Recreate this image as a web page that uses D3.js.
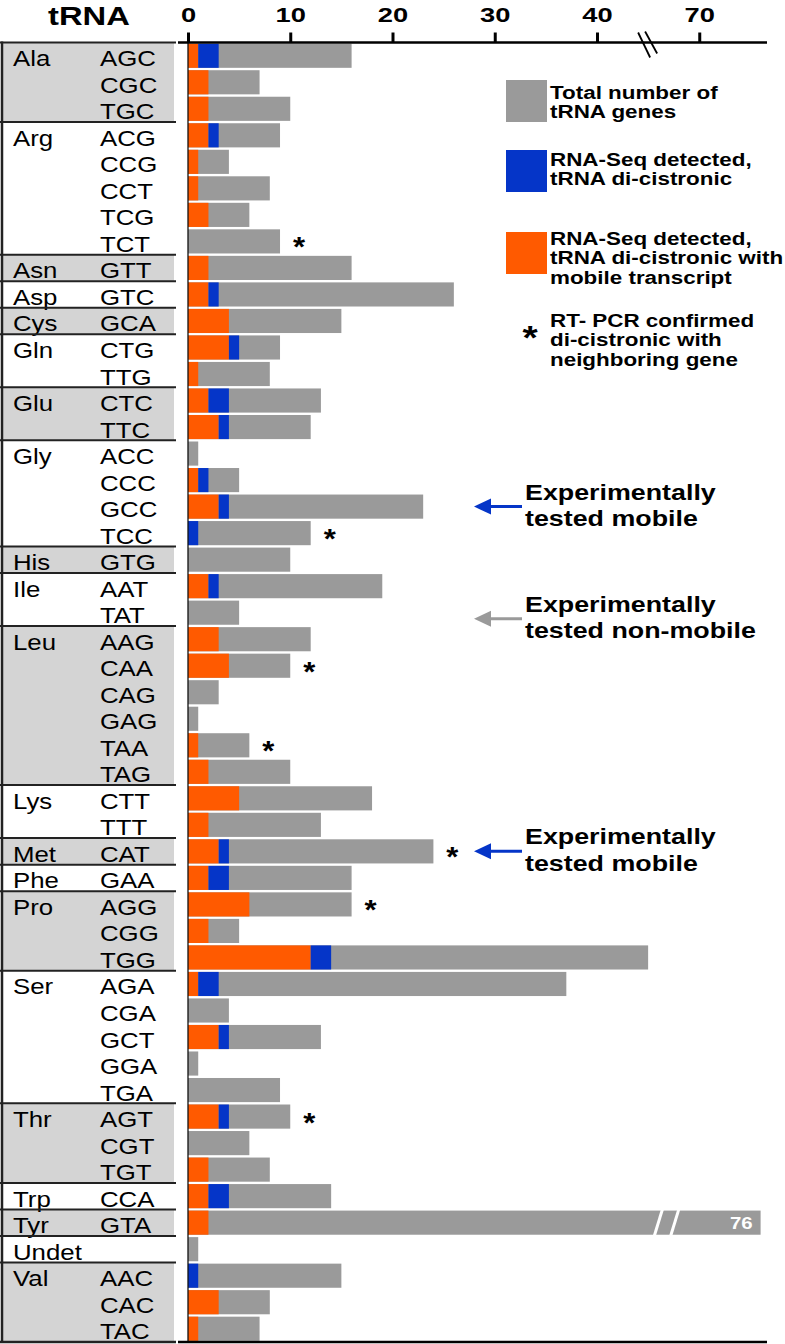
<!DOCTYPE html>
<html><head><meta charset="utf-8">
<script src="https://cdn.jsdelivr.net/npm/d3@7"></script>
<style>body{margin:0;background:#fff}svg{display:block}text{font-family:"Liberation Sans",Arial,Helvetica,sans-serif}</style>
</head><body><svg id="c" width="785" height="1344"></svg>
<script>
// ---------- data ----------
const aminoAcids = ["Ala","Ala","Ala","Arg","Arg","Arg","Arg","Arg","Asn","Asp","Cys","Gln","Gln","Glu","Glu",
  "Gly","Gly","Gly","Gly","His","Ile","Ile","Leu","Leu","Leu","Leu","Leu","Leu","Lys","Lys","Met","Phe",
  "Pro","Pro","Pro","Ser","Ser","Ser","Ser","Ser","Thr","Thr","Thr","Trp","Tyr","Undet","Val","Val","Val"];
const codons = ["AGC","CGC","TGC","ACG","CCG","CCT","TCG","TCT","GTT","GTC","GCA","CTG","TTG","CTC","TTC",
  "ACC","CCC","GCC","TCC","GTG","AAT","TAT","AAG","CAA","CAG","GAG","TAA","TAG","CTT","TTT","CAT","GAA",
  "AGG","CGG","TGG","AGA","CGA","GCT","GGA","TGA","AGT","CGT","TGT","CCA","GTA","","AAC","CAC","TAC"];
const mobile =      [1,2,2,2,1,1,2,0,2,2,4,4,1,2,3,0,1,3,0,0,2,0,3,4,0,0,1,2,5,2,3,2,6,2,12,1,0,3,0,0,3,0,2,2,2,0,0,3,1];
const dicistronic = [2,0,0,1,0,0,0,0,0,1,0,1,0,2,1,0,1,1,1,0,1,0,0,0,0,0,0,0,0,0,1,2,0,0,2,2,0,1,0,0,1,0,0,2,0,0,1,0,0];
const totals =      [16,7,10,9,4,8,6,9,16,26,15,9,8,13,12,1,5,23,12,10,19,5,12,10,3,1,6,10,18,13,24,16,16,5,45,37,4,13,1,9,10,6,8,14,76,1,15,8,7];
const rtPcr =       [0,0,0,0,0,0,0,1,0,0,0,0,0,0,0,0,0,0,1,0,0,0,0,1,0,0,1,0,0,0,1,0,1,0,0,0,0,0,0,0,1,0,0,0,0,0,0,0,0];
const tickValues = [0,10,20,30,40,70];
const legendLabels = [["Total number of","tRNA genes"],["RNA-Seq detected,","tRNA di-cistronic"],
  ["RNA-Seq detected,","tRNA di-cistronic with","mobile transcript"],["RT- PCR confirmed","di-cistronic with","neighboring gene"]];
const annotationRows = [17, 21, 30];
const annotationKinds = ["mobile","non-mobile","mobile"];
const annotationLines = [["Experimentally","tested mobile"],["Experimentally","tested non-mobile"],["Experimentally","tested mobile"]];

// ---------- style ----------
const C = {orange:"#ff5a00", blue:"#0535c8", grey:"#9a9a9a", band:"#d4d4d4", arrowGrey:"#9a9a9a"};
const svg = d3.select("#c");
const yTop = 42.5, yBottom = 1342;
const x0 = 188, k = 10.225;
const x = d3.scaleLinear().domain([0,45,65,80]).range([x0, x0+45*k, x0+45*k, x0+60*k]);
const ids = d3.range(codons.length);
const y = d3.scaleBand().domain(ids).range([yTop, yBottom]).paddingInner(0.09).paddingOuter(0.045);
const step = y.step();
const rowTop = i => yTop + i*step;

function txt(g, s, px, py, fs, sx, opts={}) {
  return g.append("text").attr("transform",`translate(${px},${py}) scale(${sx},1)`)
    .attr("font-size",fs).attr("font-weight",opts.bold?"bold":"normal")
    .attr("text-anchor",opts.anchor||"start").attr("fill",opts.fill||"#000").text(s);
}

// ---------- left table ----------
const groups = [];
aminoAcids.forEach((a,i)=>{ if(!groups.length || groups[groups.length-1].name!==a) groups.push({name:a,start:i,end:i}); else groups[groups.length-1].end=i; });
const tbl = svg.append("g");
groups.forEach((g,gi)=>{
  if(gi%2===0) tbl.append("rect").attr("x",3).attr("y",rowTop(g.start)).attr("width",171)
    .attr("height",rowTop(g.end+1)-rowTop(g.start)).attr("fill",C.band);
});
groups.forEach(g=>{
  tbl.append("line").attr("x1",0).attr("x2",176).attr("y1",rowTop(g.start)).attr("y2",rowTop(g.start))
    .attr("stroke","#222").attr("stroke-width",2);
  txt(tbl, g.name, 13, y(g.start)+y.bandwidth()/2+10.5, 21.5, 1.2);
});
tbl.append("line").attr("x1",0).attr("x2",176).attr("y1",yBottom).attr("y2",yBottom).attr("stroke","#222").attr("stroke-width",2.5);
tbl.append("line").attr("x1",2).attr("x2",2).attr("y1",yTop-1).attr("y2",yBottom+1).attr("stroke","#222").attr("stroke-width",2.5);
ids.forEach(i=>{ if(codons[i]) txt(tbl, codons[i], 100, y(i)+y.bandwidth()/2+10.5, 21.5, 1.2); });

// ---------- bars ----------
const bars = svg.append("g");
bars.selectAll("rect.t").data(ids).join("rect").attr("class","t")
  .attr("x",x(0)).attr("y",i=>y(i)).attr("height",y.bandwidth())
  .attr("width",i=>x(totals[i])-x(0)).attr("fill",C.grey);
bars.selectAll("rect.m").data(ids.filter(i=>mobile[i]>0)).join("rect").attr("class","m")
  .attr("x",x(0)).attr("y",i=>y(i)).attr("height",y.bandwidth())
  .attr("width",i=>x(mobile[i])-x(0)).attr("fill",C.orange);
bars.selectAll("rect.d").data(ids.filter(i=>dicistronic[i]>0)).join("rect").attr("class","d")
  .attr("x",i=>x(mobile[i])).attr("y",i=>y(i)).attr("height",y.bandwidth())
  .attr("width",i=>x(mobile[i]+dicistronic[i])-x(mobile[i])).attr("fill",C.blue);
// asterisks
ids.filter(i=>rtPcr[i]).forEach(i=>{
  txt(bars,"*",x(totals[i])+19, y(i)+y.bandwidth()/2+15, 27, 1.15, {bold:true, anchor:"middle"});
});
// broken bar (values beyond the axis break)
ids.filter(i=>totals[i]>65).forEach(i=>{
  const yt=y(i), yb=y(i)+y.bandwidth();
  [66,67.6].forEach(v=>{
    bars.append("line").attr("x1",x(v)-4).attr("x2",x(v)+4).attr("y1",yb+1).attr("y2",yt-1)
      .attr("stroke","#fff").attr("stroke-width",3);
  });
  txt(bars, String(totals[i]), x(totals[i])-8, yt+y.bandwidth()/2+6.5, 17, 1.2, {bold:true, anchor:"end", fill:"#fff"});
});
// y axis line
svg.append("line").attr("x1",x(0)).attr("x2",x(0)).attr("y1",yTop).attr("y2",yBottom).attr("stroke","#111").attr("stroke-width",1.3);

// ---------- top axis ----------
const ax = svg.append("g").attr("transform",`translate(0,${yTop})`)
  .call(d3.axisTop(x).tickValues(tickValues).tickSize(10).tickPadding(11).tickFormat(d3.format("d")));
ax.select(".domain").remove();
ax.selectAll(".tick line").attr("stroke","#000").attr("stroke-width",3);
ax.selectAll(".tick text").attr("font-size",21).attr("font-weight","bold").attr("fill","#000")
  .attr("font-family",'"Liberation Sans",Arial,sans-serif').attr("transform","scale(1.3,1)");
svg.append("line").attr("x1",178).attr("x2",767).attr("y1",yTop).attr("y2",yTop).attr("stroke","#000").attr("stroke-width",2.5);
svg.append("line").attr("x1",178).attr("x2",767).attr("y1",yBottom).attr("y2",yBottom).attr("stroke","#000").attr("stroke-width",2.5);
// axis break marks
const xb = x(45);
[[-10,-10,2,15],[-3,-11,9,11]].forEach(([a,b,c,d])=>{
  svg.append("line").attr("x1",xb+a).attr("y1",yTop+b).attr("x2",xb+c).attr("y2",yTop+d).attr("stroke","#000").attr("stroke-width",1.8);
});
// title
txt(svg,"tRNA",89,25,26,1.26,{bold:true,anchor:"middle"});

// ---------- legend ----------
const lg = svg.append("g");
const sq = [{c:C.grey,y:80},{c:C.blue,y:150},{c:C.orange,y:232}];
sq.forEach(s=>lg.append("rect").attr("x",506).attr("y",s.y).attr("width",41).attr("height",42).attr("fill",s.c));
const lBase = [99,166,245,327];
legendLabels.forEach((lines,j)=>lines.forEach((l,m)=>txt(lg,l,550,lBase[j]+m*19.3,19,1.18,{bold:true})));
txt(lg,"*",530,349,34,1.15,{bold:true,anchor:"middle"});

// ---------- annotations ----------
const an = svg.append("g");
annotationRows.forEach((r,j)=>{
  const cy = y(r)+y.bandwidth()/2 + (annotationKinds[j]==="non-mobile"?6:0);
  const col = annotationKinds[j]==="mobile"?C.blue:C.arrowGrey;
  an.append("line").attr("x1",489).attr("x2",522).attr("y1",cy).attr("y2",cy).attr("stroke",col).attr("stroke-width",3);
  an.append("path").attr("d",`M474,${cy} L491,${cy-8} L491,${cy+8} Z`).attr("fill",col);
  annotationLines[j].forEach((l,m)=>txt(an,l,525,cy-7+m*26.5,22,1.22,{bold:true}));
});
</script></body></html>
